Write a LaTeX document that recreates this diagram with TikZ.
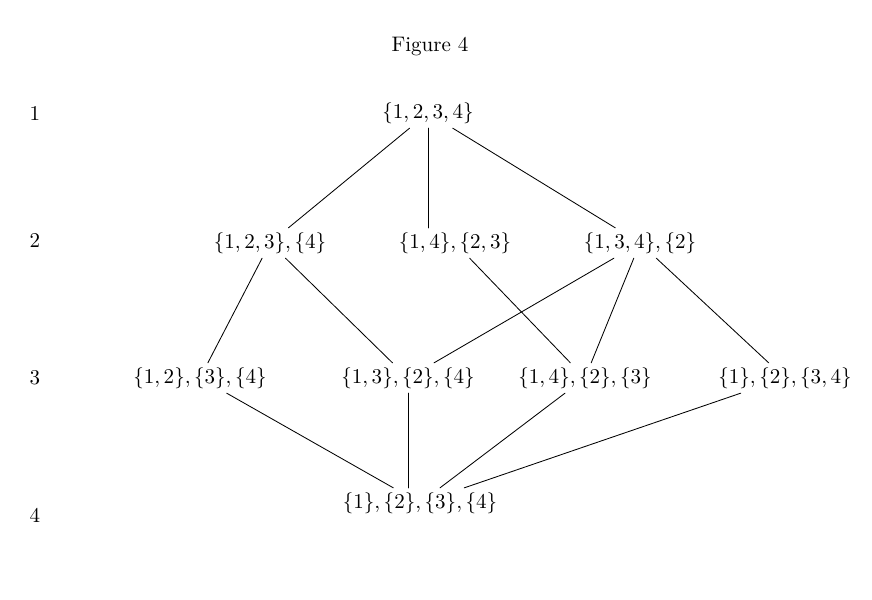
\documentclass[tikz,border=0pt]{standalone}
\usepackage{amsmath,amssymb}
\usepackage{tikz}
\usetikzlibrary{calc}

\begin{document}
\begin{tikzpicture}[x=0.475pt, y=-0.475pt, line cap=round, line join=round,
    thin, elem/.style={inner sep=2pt}, rank/.style={inner sep=1pt}]

  %--- Frame (reference size) ----------------------------------------------
  \useasboundingbox (0,0) rectangle (872,599);

  %--- Title and level numbers ---------------------------------------------
  \node (title) at (430, 47) {Figure 4};
  \node[rank] (r1) at (35,113) {1};
  \node[rank] (r2) at (35,240) {2};
  \node[rank] (r3) at (35,378) {3};
  \node[rank] (r4) at (35,515) {4};

  %--- Elements of the lattice ---------------------------------------------
  \node[elem] (top) at (428,113) {$\{1,2,3,4\}$};

  \node[elem] (a)   at (270,243) {$\{1,2,3\},\{4\}$};
  \node[elem] (b)   at (455,243) {$\{1,4\},\{2,3\}$};
  \node[elem] (c)   at (640,243) {$\{1,3,4\},\{2\}$};

  \node[elem] (d)   at (200,378) {$\{1,2\},\{3\},\{4\}$};
  \node[elem] (e)   at (408,378) {$\{1,3\},\{2\},\{4\}$};
  \node[elem] (f)   at (585,378) {$\{1,4\},\{2\},\{3\}$};
  \node[elem] (g)   at (785,378) {$\{1\},\{2\},\{3,4\}$};

  \node[elem] (bot) at (420,503) {$\{1\},\{2\},\{3\},\{4\}$};

  %--- Cover relations -----------------------------------------------------
  \draw (top) -- (a);
  \draw (top.south) -- (top.south |- b.north);
  \draw (top) -- (c);

  \draw (a) -- (d);
  \draw (a) -- (e);
  \draw (b) -- (f);
  \draw (c) -- (e);
  \draw (c) -- (f);
  \draw (c) -- (g);

  \draw (d) -- (bot);
  \draw (e.south) -- (e.south |- bot.north);
  \draw (f) -- (bot);
  \draw (g) -- (bot);

\end{tikzpicture}
\end{document}
